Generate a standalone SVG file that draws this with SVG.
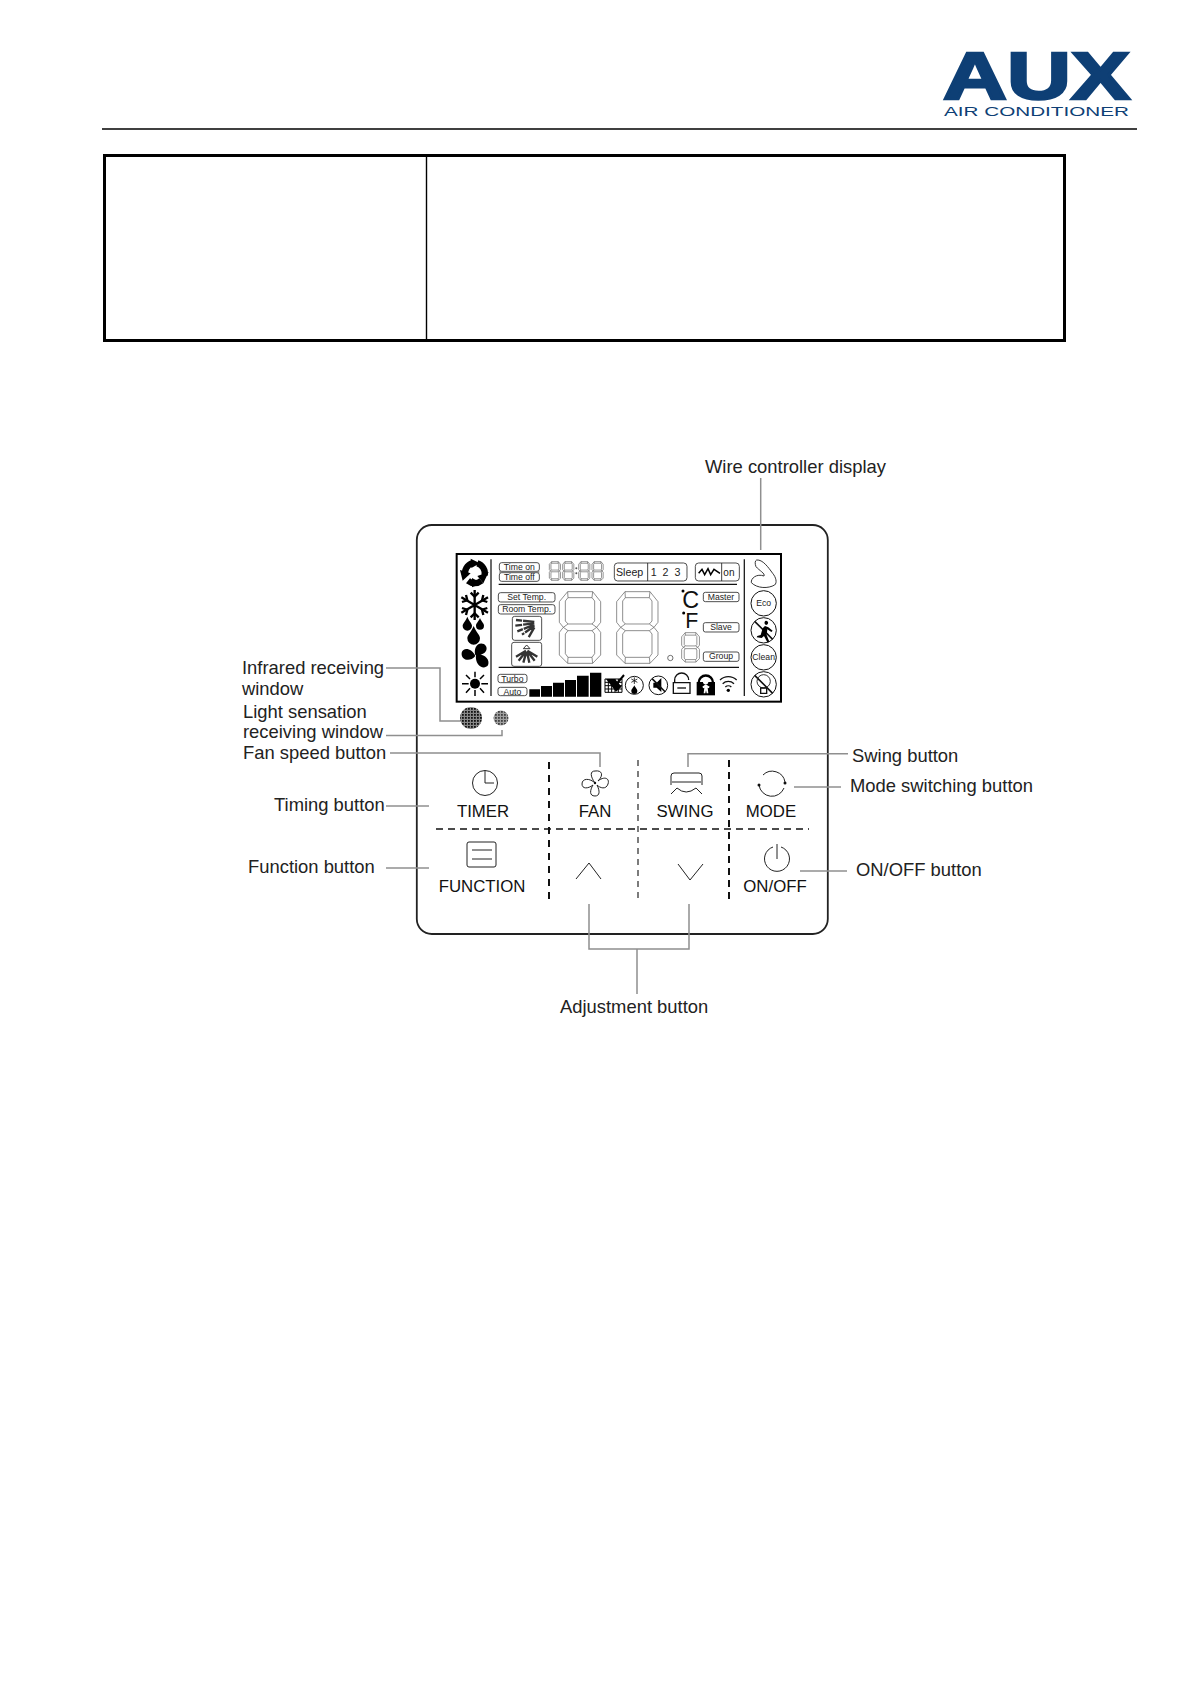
<svg xmlns="http://www.w3.org/2000/svg" xmlns:xlink="http://www.w3.org/1999/xlink" width="1191" height="1684" viewBox="0 0 1191 1684">
<style>
text{font-family:"Liberation Sans",Arial,sans-serif;fill:#222}
.lb{font-size:18.4px}
.bt{font-size:16.8px;text-anchor:middle;fill:#111}
.c{fill:none;stroke:#8f8f8f;stroke-width:1.5}
.ic{fill:none;stroke:#222;stroke-width:1}
.seg{fill:none;stroke:#666;stroke-width:2.2}
.seg2{fill:none;stroke:#555;stroke-width:7}
.pill{fill:#fff;stroke:#333;stroke-width:2.6}
.lt{font-size:26px;text-anchor:middle;fill:#222}
.k{fill:#000;stroke:none}
</style>
<defs>
<g id="digit"><path d="M25 0H100L124 30V92L112 107L124 122V190L100 215H25L0 190V122L12 107L0 92V30Z"/><path d="M26 18H98L106 28V88L98 97H26L18 88V28Z"/><path d="M26 117H98L106 127V186L98 197H26L18 186V127Z"/><path d="M12 107L26 97M112 107L98 97M12 107L26 117M112 107L98 117M25 0L26 18M100 0L98 18M25 215L26 197M100 215L98 197"/></g>
<pattern id="mesh" width="3" height="3" patternUnits="userSpaceOnUse"><rect width="3" height="3" fill="#888"/><rect width="1.8" height="1.8" fill="#111"/></pattern>
</defs>
<rect width="1191" height="1684" fill="#fff"/>
<g id="logo">
<text x="943" y="99" font-size="66" font-weight="700" textLength="187" lengthAdjust="spacingAndGlyphs" style="fill:#0e3f75;stroke:#0e3f75;stroke-width:2.5">AUX</text>
<text x="944" y="116" font-size="13.500" textLength="185" lengthAdjust="spacingAndGlyphs" style="fill:#0e3f75">AIR CONDITIONER</text>
</g>
<path id="header-rule" d="M102 129H1137" stroke="#000" stroke-width="1.6"/>
<g id="table" fill="none" stroke="#000">
<rect x="104.500" y="155.500" width="960" height="185" stroke-width="3"/>
<path d="M426.500 155V341" stroke-width="1.4"/>
</g>
<g id="controller"><rect x="416.800" y="525" width="411" height="409" rx="15" fill="none" stroke="#222" stroke-width="1.800"/></g>
<g id="connectors">
<path class="c" d="M386 668H440V721H460"/>
<path class="c" d="M386 735.500H502V730"/>
<path class="c" d="M390 753H600V767"/>
<path class="c" d="M386 806H429"/>
<path class="c" d="M386 868H429"/>
<path class="c" d="M688 767V753.700H848"/>
<path class="c" d="M794 787H841"/>
<path class="c" d="M800 871H847"/>
<path class="c" d="M589 904V949H689V904M637 949V994"/>
<path class="c" d="M760.700 478V550"/>
</g>
<g id="dividers" fill="none" stroke="#111">
<path d="M549 762V902" stroke-width="2" stroke-dasharray="7 6"/>
<path d="M638 760V902" stroke-width="1.100" stroke-dasharray="6 5"/>
<path d="M729 760V903" stroke-width="2" stroke-dasharray="7 5"/>
<path d="M436 829H809" stroke-width="1.300" stroke-dasharray="7 5"/>
</g>
<g id="labels">
<text class="lb" x="242" y="674">Infrared receiving</text>
<text class="lb" x="242" y="695">window</text>
<text class="lb" x="243" y="718">Light sensation</text>
<text class="lb" x="243" y="738">receiving window</text>
<text class="lb" x="243" y="759">Fan speed button</text>
<text class="lb" x="274" y="811">Timing button</text>
<text class="lb" x="248" y="873">Function button</text>
<text class="lb" x="705" y="473">Wire controller display</text>
<text class="lb" x="852" y="762">Swing button</text>
<text class="lb" x="850" y="792">Mode switching button</text>
<text class="lb" x="856" y="876">ON/OFF button</text>
<text class="lb" x="560" y="1013">Adjustment button</text>
</g>
<g id="btn-timer"><circle class="ic" cx="485" cy="783" r="12.500"/><path class="ic" d="M485 771V783H494"/><text class="bt" x="483" y="817">TIMER</text></g>
<g id="btn-fan"><path class="ic" d="M595 783C590 776 590 771 595 771C602 770 604 775 598 781C604 776 610 778 608 784C606 790 600 788 597 785C600 791 600 796 595 796C589 796 590 790 593 785C588 789 582 789 582 784C582 778 590 778 595 783Z"/><circle cx="595" cy="783" r="1.200" fill="#111"/><text class="bt" x="595" y="817">FAN</text></g>
<g id="btn-swing"><path class="ic" d="M671 785V776Q671 773 674 773H699Q702 773 702 776V785M672 782H701M671 794L677 788M702 794L696 788M677 788Q686 796 696 788"/><text class="bt" x="685" y="817">SWING</text></g>
<g id="btn-mode"><path class="ic" d="M763 775A13 13 0 0 1 785 782M759 785A13 13 0 0 0 784 788"/><circle cx="785" cy="783" r="1.500" fill="#111"/><circle cx="759" cy="785" r="1.500" fill="#111"/><text class="bt" x="771" y="817">MODE</text></g>
<g id="btn-function"><rect class="ic" x="467" y="842" width="29" height="25" rx="2"/><path class="ic" d="M472 850H492M472 859H492"/><text class="bt" x="482" y="892">FUNCTION</text></g>
<g id="btn-up"><path class="ic" d="M576 879L589 863L601 879"/></g>
<g id="btn-down"><path class="ic" d="M678 864L690 880L703 864"/></g>
<g id="btn-onoff"><path class="ic" d="M773 847A12.500 12.500 0 1 0 781 847M777 844V859"/><text class="bt" x="775" y="892">ON/OFF</text></g>
<g id="ir-window"><circle cx="471" cy="718" r="11" fill="url(#mesh)"/></g>
<g id="light-window"><circle cx="501" cy="718" r="7.500" fill="url(#mesh)" opacity=".8"/></g>
<g id="lcd" transform="translate(440 540) scale(.33333)">
<rect x="50" y="42" width="973" height="443" fill="none" stroke="#000" stroke-width="6"/>
<path d="M153 58V468M913 58V468" stroke="#222" stroke-width="4" fill="none"/>
<path d="M176 133H891" stroke="#111" stroke-width="4"/><path d="M176 382H897" stroke="#111" stroke-width="4"/>
<g fill="none" stroke="#000" stroke-width="19"><path d="M76 108A32 32 0 0 1 98 69"/><path d="M112 70A32 32 0 0 1 134 106"/><path d="M124 122A32 32 0 0 1 84 122"/></g>
<path class="k" d="M92 56L120 70L94 84ZM60 90L92 100L68 122ZM146 96L130 130L112 108ZM96 114L126 130L96 142Z"/>
<g stroke="#000" stroke-width="7" fill="none"><path d="M104 150V240M64 172L144 218M64 218L144 172"/><path d="M92 158L104 170L116 158M92 232L104 220L116 232M66 186L82 181L78 165M142 204L126 209L130 225M66 204L82 209L78 225M142 186L126 181L130 165"/></g>
<path class="k" d="M82 230C76 245 68 250 68 258A14 14 0 0 0 96 258C96 250 88 245 82 230ZM120 234C115 246 108 250 108 257A12 12 0 0 0 132 257C132 250 125 246 120 234ZM101 258C94 276 82 285 82 295A19 19 0 0 0 120 295C120 285 108 276 101 258Z"/>
<path class="k" d="M106 348C90 368 62 360 65 338C70 320 96 325 106 348ZM106 345C100 325 112 304 132 312C148 322 140 348 106 345ZM108 345C130 338 152 358 144 376C130 392 104 375 108 345Z"/>
<circle class="k" cx="105" cy="431" r="15"/><path d="M105 395V412M105 450V468M66 431H86M124 431H144M78 405L90 417M132 405L120 417M78 458L90 445M132 458L120 445" stroke="#000" stroke-width="4.500"/>
<rect class="pill" x="178" y="68" width="120" height="26" rx="7"/><rect class="pill" x="178" y="98" width="120" height="26" rx="7"/>
<path d="M178 96H298" stroke="#777" stroke-width="4"/>
<text class="lt" x="238" y="90">Time  on</text><text class="lt" x="238" y="120">Time  off</text>
<g class="seg2"><use xlink:href="#digit" transform="translate(328 65) scale(.27 .26)"/><use xlink:href="#digit" transform="translate(368 65) scale(.27 .26)"/><use xlink:href="#digit" transform="translate(416 65) scale(.27 .26)"/><use xlink:href="#digit" transform="translate(456 65) scale(.27 .26)"/></g>
<circle cx="409" cy="85" r="3" fill="#555"/><circle cx="409" cy="100" r="3" fill="#555"/>
<rect class="pill" x="523" y="69" width="218" height="54" rx="10"/><path d="M623 69V123" stroke="#222" stroke-width="2.600"/>
<text x="528" y="107" font-size="32">Sleep</text><text x="632" y="107" font-size="32" style="word-spacing:9px">1 2 3</text>
<rect class="pill" x="766" y="69" width="132" height="54" rx="10"/><path d="M845 69V123" stroke="#222" stroke-width="2.600"/>
<path d="M776 100L786 88L794 104L804 86L812 104L822 88L840 100" fill="none" stroke="#000" stroke-width="4.500"/>
<text x="850" y="107" font-size="30">on</text>
<rect class="pill" x="175" y="158" width="170" height="28" rx="7"/><text class="lt" x="260" y="180">Set Temp.</text>
<rect class="pill" x="175" y="194" width="170" height="28" rx="7"/><text class="lt" x="260" y="217">Room Temp.</text>
<rect class="pill" x="217" y="229" width="88" height="72" rx="7"/>
<g fill="none" stroke="#333" stroke-width="7" stroke-dasharray="34 3"><path d="M283 246L228 240M283 250L226 257M283 254L232 274M283 258L246 284M283 262L266 292"/></g>
<rect class="pill" x="215" y="307" width="90" height="72" rx="7"/>
<path d="M260 315L250 326H270Z" fill="none" stroke="#333" stroke-width="3"/>
<g fill="none" stroke="#333" stroke-width="7"><path d="M258 332L228 350M258 334L236 362M259 336L250 368M261 336L268 368M262 334L284 362M262 332L292 350"/></g>
<g class="seg"><use xlink:href="#digit" transform="translate(358 155)"/><use xlink:href="#digit" transform="translate(530 155)"/></g>
<g class="seg" style="stroke-width:5"><use xlink:href="#digit" transform="translate(725 278) scale(.43 .41)"/></g>
<circle cx="691" cy="354" r="8" fill="none" stroke="#555" stroke-width="2.500"/>
<text x="727" y="203" font-size="70" style="fill:#111">C</text><text x="736" y="263" font-size="64" style="fill:#111">F</text>
<circle class="k" cx="729" cy="153" r="4.500"/><circle class="k" cx="731" cy="219" r="4.500"/>
<rect class="pill" x="790" y="157" width="107" height="28" rx="6"/><text class="lt" x="843" y="180">Master</text>
<rect class="pill" x="790" y="248" width="107" height="28" rx="6"/><text class="lt" x="843" y="271">Slave</text>
<rect class="pill" x="790" y="336" width="107" height="28" rx="6"/><text class="lt" x="843" y="358">Group</text>
<rect class="pill" x="174" y="403" width="87" height="25" rx="7"/><text class="lt" x="217" y="425">Turbo</text>
<rect class="pill" x="174" y="442" width="87" height="25" rx="7"/><text class="lt" x="217" y="464">Auto</text>
<path class="k" d="M268 448H300V470H268ZM303 438H336V470H303ZM339 428H372V470H339ZM375 420H408V470H375ZM411 407H446V470H411ZM450 398H484V470H450Z"/>
<g fill="none" stroke="#000" stroke-width="3"><path d="M495 417H546V457H495ZM495 427H546M495 437H546M495 447H546M505 417V457M515 417V457M525 417V457M535 417V457"/></g>
<path class="k" d="M498 417L525 417L545 440L528 455Z"/><path d="M525 438L552 405" stroke="#000" stroke-width="6"/>
<g fill="none" stroke="#111" stroke-width="3"><circle cx="583" cy="436" r="27"/><circle cx="655" cy="436" r="28"/></g>
<path class="k" d="M583 436C578 446 574 448 574 453A9 9 0 0 0 592 453C592 448 588 446 583 436ZM640 428H650L664 414V456L650 443H640Z"/>
<path d="M583 412V432M574 417L592 427M592 417L574 427" stroke="#111" stroke-width="2.500"/>
<path d="M636 416L676 456" stroke="#111" stroke-width="5"/>
<g fill="none" stroke="#111" stroke-width="4"><path d="M704 428V420A21 21 0 0 1 746 420"/><path d="M700 428H750V460H700Z"/><path d="M712 444H738"/></g>
<path class="k" d="M770 426H825V466H770Z"/><path d="M776 428A21 21 0 0 1 819 428" fill="none" stroke="#000" stroke-width="7"/>
<circle cx="797" cy="425" r="8" fill="#fff"/><path d="M797 433L787 440L790 445L793 443L791 460H796L798 451L800 460H805L803 443L806 445L809 440Z" fill="#fff"/>
<g fill="none" stroke="#111" stroke-width="4"><path d="M840 420A36 36 0 0 1 890 420"/><path d="M848 431A25 25 0 0 1 882 431"/><path d="M856 441A13 13 0 0 1 874 441"/></g><circle class="k" cx="865" cy="451" r="5"/>
<path d="M950 60C968 58 985 82 998 100C1008 112 1012 128 1004 135C985 146 952 146 934 128C932 115 950 100 972 108C976 100 958 92 948 80C944 70 945 62 950 60Z" fill="none" stroke="#333" stroke-width="3"/>
<g fill="none" stroke="#111" stroke-width="3"><circle cx="971" cy="190" r="38"/><circle cx="971" cy="271" r="38"/><circle cx="971" cy="352" r="38"/><circle cx="971" cy="433" r="38"/></g>
<text x="971" y="199" font-size="26" text-anchor="middle">Eco</text>
<text x="971" y="361" font-size="26" text-anchor="middle">Clean</text>
<path d="M944 244L998 298M944 406L998 460" stroke="#111" stroke-width="5"/>
<path class="k" d="M978 242C988 244 985 254 978 255C972 252 972 244 978 242ZM975 258L985 262L998 272L994 276L982 268L980 285L988 305L982 307L972 288L965 294L950 292L952 288L962 285L968 265Z"/>
<circle cx="971" cy="424" r="20" fill="none" stroke="#333" stroke-width="3"/><path d="M962 444H980V460H962Z" fill="none" stroke="#111" stroke-width="4"/>
</g>
</svg>
